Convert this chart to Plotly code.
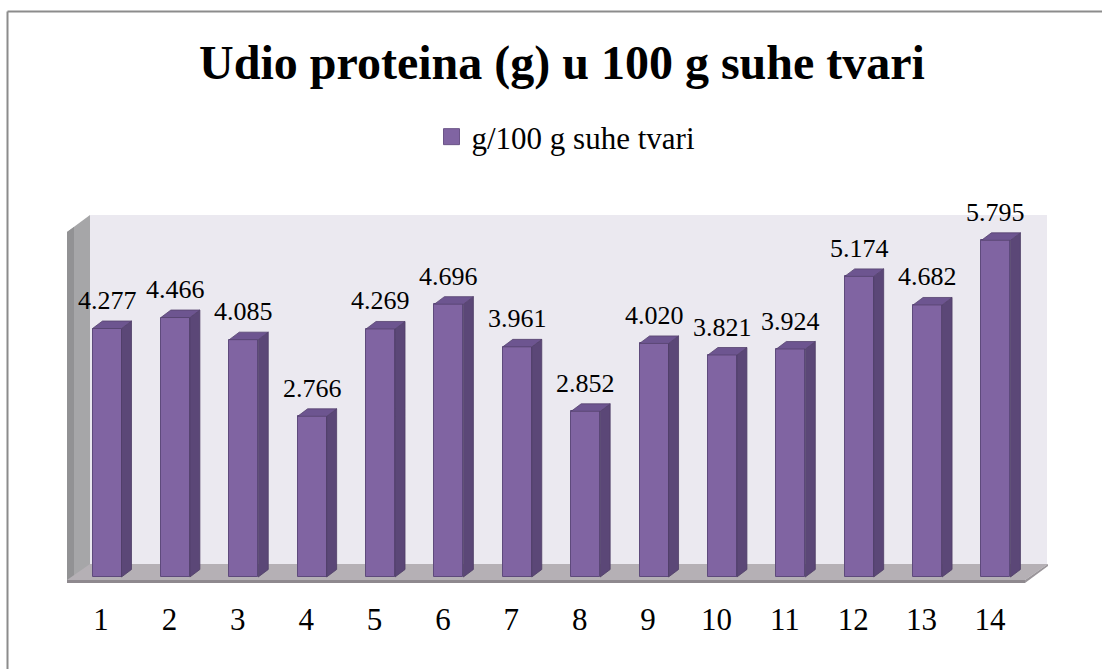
import plotly.graph_objects as go

# ---- data ----
categories = ["1", "2", "3", "4", "5", "6", "7", "8", "9", "10", "11", "12", "13", "14"]
values = [4.277, 4.466, 4.085, 2.766, 4.269, 4.696, 3.961, 2.852, 4.020, 3.821, 3.924, 5.174, 4.682, 5.795]
labels = ["4.277", "4.466", "4.085", "2.766", "4.269", "4.696", "3.961", "2.852",
          "4.020", "3.821", "3.924", "5.174", "4.682", "5.795"]
series_name = "g/100 g suhe tvari"
title_text = "Udio proteina (g) u 100 g suhe tvari"

SERIF = "Liberation Serif, Times New Roman, serif"

# ---- geometry (pixel layout -> data units) ----
W, H = 1102, 669
L, R, T, B = 60, 1050, 200, 590
X0PX, XSTEP = 107.0, 68.38   # pixel of category 1, pixels per category
Y0PX, YSTEP = 577.0, 58.1    # pixel of value 0, pixels per unit


def xd(px):
    return 1 + (px - X0PX) / XSTEP


def yd(py):
    return (Y0PX - py) / YSTEP


xrange_ = [xd(L), xd(R)]
yrange_ = [yd(B), yd(T)]

pos = list(range(1, len(values) + 1))
hw = 14.5 / XSTEP      # half width of bar front
ddx = 10 / XSTEP       # depth offset x
ddy = 7.5 / YSTEP      # depth offset y

FRONT = "#8064A2"
SIDE = "#5B4777"
TOP = "#6D5590"
EDGE = "#5E4A7C"

fig = go.Figure()


def poly(pts):
    return "M " + " L ".join(f"{xd(a)},{yd(b)}" for a, b in pts) + " Z"


shapes = []
# back wall
shapes.append(dict(type="path", xref="x", yref="y", layer="below",
                   path=poly([(90, 565), (90, 215), (1047, 215), (1047, 565)]),
                   fillcolor="#EBE9F0", line=dict(width=0)))
# left wall
shapes.append(dict(type="path", xref="x", yref="y", layer="below",
                   path=poly([(67, 581), (67, 232), (90, 215), (90, 565)]),
                   fillcolor="#A6A6A8", line=dict(width=0)))
shapes.append(dict(type="path", xref="x", yref="y", layer="below",
                   path=poly([(67, 581), (67, 232), (74, 227), (74, 576)]),
                   fillcolor="#929294", line=dict(width=0)))
# floor
shapes.append(dict(type="path", xref="x", yref="y", layer="below",
                   path=poly([(67, 580), (90, 564), (1048, 564), (1025, 580)]),
                   fillcolor="#B5B0B5", line=dict(width=0)))
# floor front edge
shapes.append(dict(type="path", xref="x", yref="y", layer="below",
                   path=poly([(67, 580), (1025, 580), (1025, 583), (67, 583)]),
                   fillcolor="#8E898E", line=dict(width=0)))
shapes.append(dict(type="path", xref="x", yref="y", layer="below",
                   path=poly([(1025, 580), (1048, 564), (1048, 566), (1025, 583)]),
                   fillcolor="#9A959A", line=dict(width=0)))


def px2paper_x(px):
    return (px - L) / (R - L)


def px2paper_y(py):
    return (B - py) / (B - T)


# outer frame (top and left visible)
shapes.append(dict(type="line", xref="paper", yref="paper",
                   x0=px2paper_x(7.5), x1=px2paper_x(W + 5), y0=px2paper_y(11.5), y1=px2paper_y(11.5),
                   line=dict(color="#8C8C8C", width=2)))
shapes.append(dict(type="line", xref="paper", yref="paper",
                   x0=px2paper_x(7.5), x1=px2paper_x(7.5), y0=px2paper_y(11.5), y1=px2paper_y(H + 5),
                   line=dict(color="#8C8C8C", width=2)))

# ---- bar faces computed from values ----
sx, sy, tx, ty = [], [], [], []
for p, v in zip(pos, values):
    x1 = p + hw
    sx += [x1, x1 + ddx, x1 + ddx, x1, x1, None]
    sy += [0, ddy, v + ddy, v, 0, None]
    x0 = p - hw
    tx += [x0, x0 + ddx, x1 + ddx, x1, x0, None]
    ty += [v, v + ddy, v + ddy, v, v, None]

fig.add_trace(go.Scatter(x=sx, y=sy, mode="lines", fill="toself", fillcolor=SIDE,
                         line=dict(color="#4E3D66", width=0.8), showlegend=False, hoverinfo="skip"))
fig.add_trace(go.Bar(x=pos, y=values, width=2 * hw, marker=dict(color=FRONT, line=dict(color=EDGE, width=1)),
                     showlegend=False, name=series_name))
fig.add_trace(go.Scatter(x=tx, y=ty, mode="lines", fill="toself", fillcolor=TOP,
                         line=dict(color="#55436E", width=0.8), showlegend=False, hoverinfo="skip"))

# legend entry
fig.add_trace(go.Scatter(x=[None], y=[None], mode="markers", name=series_name,
                         marker=dict(symbol="square", size=17, color=FRONT,
                                     line=dict(color="#6B5488", width=1)),
                         showlegend=True))

# data labels
annotations = []
for p, v, lab in zip(pos, values, labels):
    annotations.append(dict(x=p, y=v, xref="x", yref="y", text=lab, showarrow=False,
                            yanchor="middle", yshift=28,
                            font=dict(family=SERIF, size=26, color="#000000")))

fig.update_layout(
    width=W, height=H,
    font=dict(family=SERIF, color="#000000"),
    margin=dict(l=L, r=W - R, t=T, b=H - B),
    paper_bgcolor="white", plot_bgcolor="rgba(0,0,0,0)",
    title=dict(text=f"<b>{title_text}</b>", x=562 / W, xanchor="center", y=1 - 62 / H, yanchor="middle",
               font=dict(family=SERIF, size=48, color="#000000")),
    legend=dict(orientation="h", x=566 / W, xanchor="center", xref="container",
                y=1 - 137 / H, yanchor="middle", yref="container",
                font=dict(family=SERIF, size=31, color="#000000"),
                itemwidth=30, bgcolor="rgba(0,0,0,0)"),
    shapes=shapes,
    annotations=annotations,
    bargap=0,
    xaxis=dict(range=xrange_, tickvals=[p - 6 / XSTEP for p in pos], ticktext=categories,
               showgrid=False, zeroline=False, showline=False,
               ticks="outside", ticklen=2, tickcolor="rgba(0,0,0,0)",
               tickfont=dict(family=SERIF, size=31, color="#000000")),
    yaxis=dict(range=yrange_, showgrid=False, zeroline=False, showline=False, showticklabels=False),
)

fig.write_html("out.html", config={"displayModeBar": False},
               post_script="document.body.style.margin='0';document.body.style.overflow='hidden';")
